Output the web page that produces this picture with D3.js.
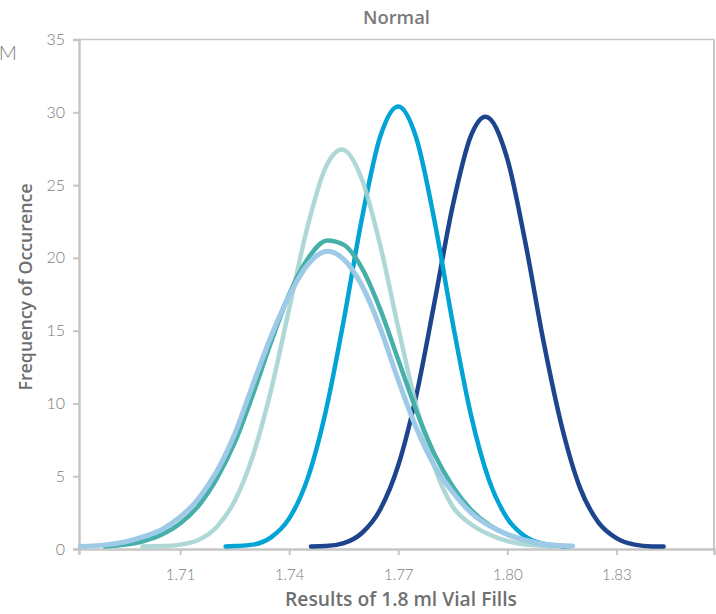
<!DOCTYPE html>
<html>
<head>
<meta charset="utf-8">
<script src="https://cdn.jsdelivr.net/npm/d3@7"></script>
<style>
  html, body { margin: 0; padding: 0; background: #ffffff; }
  svg { display: block; }
  text { font-family: Lato, "Open Sans", sans-serif; }
</style>
</head>
<body>
<svg id="chart" width="716" height="614"></svg>
<script>
// ---- data ----
const chartTitle = "Normal";
const xTitle = "Results of 1.8 ml Vial Fills";
const yTitle = "Frequency of Occurence";
const xTicks = [1.71, 1.74, 1.77, 1.80, 1.83];
const yTicks = [0, 5, 10, 15, 20, 25, 30, 35];

const darkBlue = [[1.746,0.18],[1.750,0.2],[1.755,0.4],[1.760,1.1],[1.765,2.7],[1.770,5.75],[1.775,10.6],[1.780,17.0],[1.785,23.6],[1.790,28.4],[1.794,29.7],[1.800,26.8],[1.805,21.0],[1.810,14.2],[1.815,8.4],[1.820,4.2],[1.825,1.85],[1.830,0.75],[1.835,0.3],[1.840,0.18],[1.843,0.17]];
const cyan = [[1.7225,0.17],[1.725,0.2],[1.730,0.3],[1.735,0.8],[1.740,2.1],[1.745,4.8],[1.750,9.4],[1.755,15.7],[1.760,22.7],[1.765,28.3],[1.770,30.4],[1.775,28.2],[1.780,22.5],[1.785,15.5],[1.790,9.2],[1.795,4.7],[1.800,2.1],[1.805,0.85],[1.810,0.35],[1.816,0.18]];
const paleTeal = [[1.6996,0.18],[1.705,0.2],[1.710,0.3],[1.715,0.62],[1.720,1.5],[1.725,3.3],[1.730,6.4],[1.735,10.9],[1.740,16.5],[1.745,22.1],[1.750,26.2],[1.7545,27.45],[1.760,25.4],[1.765,20.9],[1.770,15.2],[1.775,9.8],[1.780,5.6],[1.785,2.9],[1.790,1.7],[1.795,1.0],[1.800,0.55],[1.805,0.3],[1.813,0.18]];
const teal = [[1.6893,0.17],[1.695,0.3],[1.700,0.55],[1.705,1.0],[1.710,1.75],[1.715,2.95],[1.720,4.8],[1.725,7.3],[1.730,10.6],[1.735,14.2],[1.740,17.5],[1.745,19.9],[1.7505,21.2],[1.755,20.9],[1.760,19.3],[1.765,16.5],[1.770,13.0],[1.775,9.5],[1.780,6.5],[1.785,4.3],[1.790,2.7],[1.795,1.65],[1.800,1.0],[1.805,0.6],[1.810,0.35],[1.817,0.18]];
const lightBlue = [[1.6825,0.18],[1.690,0.3],[1.695,0.5],[1.700,0.85],[1.705,1.35],[1.710,2.2],[1.715,3.45],[1.720,5.3],[1.725,7.9],[1.730,11.3],[1.735,14.6],[1.740,17.4],[1.745,19.5],[1.7505,20.45],[1.755,19.9],[1.760,18.1],[1.765,15.2],[1.770,11.6],[1.775,8.3],[1.780,5.7],[1.785,3.9],[1.790,2.5],[1.795,1.6],[1.800,1.0],[1.805,0.6],[1.810,0.35],[1.818,0.2]];

(function () {
  const svg = d3.select("#chart");
  const mL = 79, mR = 714, mT = 39.5, mB = 549;
  const x = d3.scaleLinear().domain([1.68218, 1.85685]).range([mL, mR]);
  const y = d3.scaleLinear().domain([0, 35]).range([mB, mT]);

  const frameColor = "#c6c6c6";
  const textColor = "#7a7a7a";
  const titleColor = "#6f6f6f";
  const titleFont = "'Open Sans', Lato, sans-serif";

  function fitWidth(sel, target) {
    const w = sel.node().getComputedTextLength();
    const fs = parseFloat(sel.style("font-size"));
    if (w > 0) sel.style("font-size", (fs * target / w).toFixed(2) + "px");
    return sel;
  }

  svg.append("line").attr("x1", mL).attr("x2", mR).attr("y1", mT).attr("y2", mT)
    .attr("stroke", frameColor).attr("stroke-width", 1.5);
  svg.append("line").attr("x1", mR).attr("x2", mR).attr("y1", mT).attr("y2", mB)
    .attr("stroke", frameColor).attr("stroke-width", 2);

  const yAxis = svg.append("g").attr("transform", `translate(${mL},0)`)
    .call(d3.axisLeft(y).tickValues(yTicks).tickSize(6).tickPadding(8).tickFormat(d3.format("d")));
  yAxis.select(".domain").attr("stroke", frameColor).attr("stroke-width", 2.5);
  yAxis.selectAll(".tick line").attr("stroke", frameColor).attr("stroke-width", 2);
  yAxis.selectAll(".tick text").attr("fill", textColor).style("font-size", "16px").style("font-weight", 300)
    .style("font-family", "Lato, 'Open Sans', sans-serif");

  const xAxis = svg.append("g").attr("transform", `translate(0,${mB})`)
    .call(d3.axisBottom(x).tickValues(xTicks).tickSize(6).tickPadding(14).tickFormat(d3.format(".2f")));
  xAxis.select(".domain").attr("stroke", frameColor).attr("stroke-width", 2.5);
  xAxis.selectAll(".tick line").attr("stroke", frameColor).attr("stroke-width", 2);
  xAxis.selectAll(".tick text").attr("fill", textColor).style("font-size", "15px").style("font-weight", 300)
    .style("font-family", "Lato, 'Open Sans', sans-serif");

  const line = d3.line().x(d => x(d[0])).y(d => y(d[1])).curve(d3.curveMonotoneX);
  const series = [
    { data: darkBlue, color: "#1d448c", width: 4.5, opacity: 1 },
    { data: cyan, color: "#02a4d6", width: 4.5, opacity: 1 },
    { data: paleTeal, color: "#a5d4d2", width: 4.5, opacity: 0.9 },
    { data: teal, color: "#45b0a9", width: 4.5, opacity: 1 },
    { data: lightBlue, color: "#9ecae8", width: 5, opacity: 1 }
  ];
  svg.append("g").selectAll("path").data(series).join("path")
    .attr("d", s => line(s.data))
    .attr("fill", "none")
    .attr("stroke", s => s.color)
    .attr("stroke-width", s => s.width)
    .attr("stroke-opacity", s => s.opacity)
    .attr("stroke-linecap", "round")
    .attr("stroke-linejoin", "round");

  const t1 = svg.append("text").attr("x", 396.5).attr("y", 24).attr("text-anchor", "middle")
    .attr("fill", textColor).style("font-family", titleFont).style("font-size", "18px").style("font-weight", 600).text(chartTitle);
  fitWidth(t1, 67);
  const t2 = svg.append("text").attr("x", 401).attr("y", 606).attr("text-anchor", "middle")
    .attr("fill", titleColor).style("font-family", titleFont).style("font-size", "18px").style("font-weight", 600).text(xTitle);
  fitWidth(t2, 232);
  const t3 = svg.append("text").attr("transform", "translate(32,287) rotate(-90)").attr("text-anchor", "middle")
    .attr("fill", titleColor).style("font-family", titleFont).style("font-size", "18px").style("font-weight", 600).text(yTitle);
  fitWidth(t3, 207);
  svg.append("text").attr("x", 17).attr("y", 60).attr("text-anchor", "end")
    .attr("fill", textColor).style("font-size", "20px").style("font-weight", 300).text("M");
})();
</script>
</body>
</html>
